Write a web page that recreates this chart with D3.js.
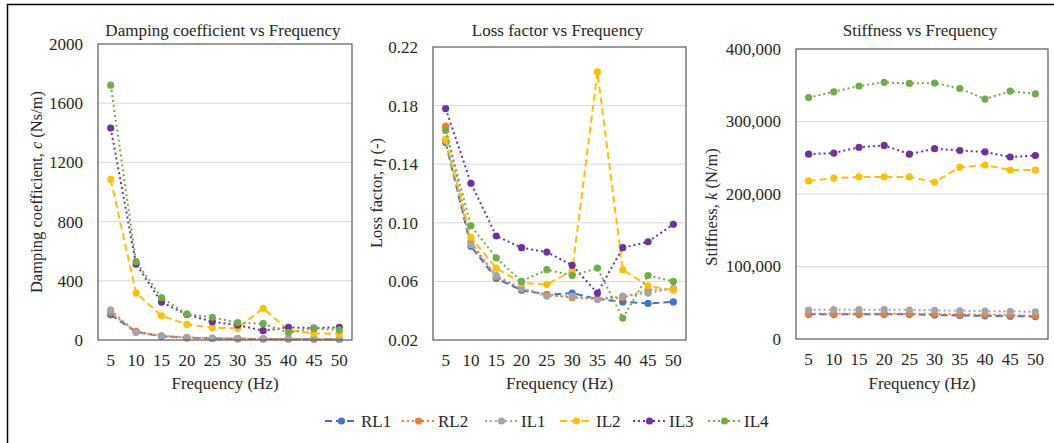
<!DOCTYPE html>
<html>
<head>
<meta charset="utf-8">
<script src="https://cdn.jsdelivr.net/npm/d3@7"></script>
<style>
  body { margin: 0; background: #fff; }
  svg text { font-family: "Liberation Serif", "Times New Roman", serif; fill: #262626; }
</style>
</head>
<body>
<div id="chart"></div>
<script>
var W = 1054, H = 443;

// categories
var freqs = ["5", "10", "15", "20", "25", "30", "35", "40", "45", "50"];
var seriesNames = ["RL1", "RL2", "IL1", "IL2", "IL3", "IL4"];

// damping coefficient c (Ns/m)
var dampRL1 = [170, 55, 25, 15, 10, 8, 7, 6, 5, 5];
var dampRL2 = [185, 58, 27, 16, 11, 9, 7, 6, 6, 5];
var dampIL1 = [203, 50, 28, 18, 12, 10, 8, 6, 6, 5];
var dampIL2 = [1085, 317, 164, 106, 83, 79, 214, 66, 45, 41];
var dampIL3 = [1432, 513, 256, 172, 124, 101, 63, 86, 80, 86];
var dampIL4 = [1722, 529, 286, 176, 153, 117, 110, 50, 79, 68];

// loss factor eta (-)
var lossRL1 = [0.155, 0.084, 0.062, 0.054, 0.051, 0.052, 0.048, 0.046, 0.045, 0.046];
var lossRL2 = [0.166, 0.087, 0.063, 0.055, 0.051, 0.049, 0.048, 0.049, 0.054, 0.055];
var lossIL1 = [0.156, 0.085, 0.064, 0.055, 0.050, 0.050, 0.048, 0.050, 0.052, 0.055];
var lossIL2 = [0.157, 0.090, 0.069, 0.059, 0.058, 0.067, 0.203, 0.068, 0.057, 0.054];
var lossIL3 = [0.178, 0.127, 0.091, 0.083, 0.080, 0.071, 0.052, 0.083, 0.087, 0.099];
var lossIL4 = [0.163, 0.098, 0.076, 0.060, 0.068, 0.064, 0.069, 0.035, 0.064, 0.060];

// stiffness k (N/m)
var stiffRL1 = [34000, 34000, 34000, 34000, 34000, 33000, 32500, 32000, 31500, 31000];
var stiffRL2 = [35000, 35000, 35000, 35000, 35000, 34500, 34000, 33500, 33000, 32000];
var stiffIL1 = [40000, 40500, 40500, 40500, 40000, 39500, 39000, 38500, 38000, 37500];
var stiffIL2 = [218000, 222000, 223500, 223500, 223500, 216500, 237000, 240000, 233000, 233000];
var stiffIL3 = [255000, 256500, 264500, 267000, 255000, 262500, 260000, 258000, 251000, 253000];
var stiffIL4 = [333000, 341000, 349000, 354000, 352500, 353000, 345500, 331000, 342000, 338000];

// y-axis ticks
var dampTicks = [0, 400, 800, 1200, 1600, 2000];
var lossTicks = [0.02, 0.06, 0.10, 0.14, 0.18, 0.22];
var stiffTicks = [0, 100000, 200000, 300000, 400000];

var colors = ["#4472C4", "#ED7D31", "#A5A5A5", "#FFC000", "#7030A0", "#70AD47"];
var dashes = ["7,4", "2,3", "2,3", "7,4", "2,3", "2,3"];

var svg = d3.select("#chart").append("svg")
  .attr("width", W).attr("height", H);

// outer frame (right/bottom edges fall outside the picture)
svg.append("rect")
  .attr("x", 7.5).attr("y", 4.5)
  .attr("width", W).attr("height", H)
  .attr("fill", "none").attr("stroke", "#000").attr("stroke-width", 1.5);

var panels = [
  { title: "Damping coefficient vs Frequency", label: ["Damping coefficient, ", "c", " (Ns/m)"],
    series: [dampRL1, dampRL2, dampIL1, dampIL2, dampIL3, dampIL4], ticks: dampTicks, fmt: d3.format("d"),
    box: { l: 98, r: 352, t: 44, b: 340 }, labelX: 37, labelY: 192 },
  { title: "Loss factor vs Frequency", label: ["Loss factor, ", "η", " (-)"],
    series: [lossRL1, lossRL2, lossIL1, lossIL2, lossIL3, lossIL4], ticks: lossTicks, fmt: d3.format(".2f"),
    box: { l: 433, r: 686, t: 47, b: 340 }, labelX: 377, labelY: 193 },
  { title: "Stiffness vs Frequency", label: ["Stiffness, ", "k", " (N/m)"],
    series: [stiffRL1, stiffRL2, stiffIL1, stiffIL2, stiffIL3, stiffIL4], ticks: stiffTicks, fmt: d3.format(","),
    box: { l: 796, r: 1048, t: 49, b: 339 }, labelX: 712, labelY: 207 }
];

panels.forEach(function(p) {
  var b = p.box;
  var x = d3.scalePoint().domain(freqs).range([b.l, b.r]).padding(0.5);
  var y = d3.scaleLinear().domain([p.ticks[0], p.ticks[p.ticks.length - 1]]).range([b.b, b.t]);
  var g = svg.append("g");

  // gridlines
  g.selectAll(".grid").data(p.ticks.slice(1, -1)).enter().append("line")
    .attr("x1", b.l).attr("x2", b.r)
    .attr("y1", function(d) { return y(d); }).attr("y2", function(d) { return y(d); })
    .attr("stroke", "#d9d9d9").attr("stroke-width", 1);

  // y tick labels
  g.selectAll(".ytick").data(p.ticks).enter().append("text")
    .attr("x", b.l - 15).attr("y", function(d) { return y(d); })
    .attr("dy", "0.35em").attr("text-anchor", "end")
    .attr("font-size", 17).text(function(d) { return p.fmt(d); });

  // x tick labels
  g.selectAll(".xtick").data(freqs).enter().append("text")
    .attr("x", function(d) { return x(d); }).attr("y", b.b + 26)
    .attr("text-anchor", "middle").attr("font-size", 17).text(function(d) { return d; });

  g.append("text").attr("x", (b.l + b.r) / 2).attr("y", 389)
    .attr("text-anchor", "middle").attr("font-size", 17).text("Frequency (Hz)");

  g.append("text").attr("x", (b.l + b.r) / 2 - 2).attr("y", 36)
    .attr("text-anchor", "middle").attr("font-size", 17).text(p.title);

  var yl = g.append("text")
    .attr("transform", "translate(" + (p.labelX + 5) + "," + p.labelY + ") rotate(-90)")
    .attr("text-anchor", "middle").attr("font-size", 16.5);
  yl.append("tspan").text(p.label[0]);
  yl.append("tspan").attr("font-style", "italic").text(p.label[1]);
  yl.append("tspan").text(p.label[2]);

  // series
  p.series.forEach(function(vals, si) {
    var line = d3.line()
      .x(function(d, i) { return x(freqs[i]); })
      .y(function(d) { return y(d); });
    g.append("path").datum(vals)
      .attr("d", line).attr("fill", "none")
      .attr("stroke", colors[si]).attr("stroke-width", 2)
      .attr("stroke-dasharray", dashes[si]);
    g.selectAll(".pt" + si).data(vals).enter().append("circle")
      .attr("cx", function(d, i) { return x(freqs[i]); })
      .attr("cy", function(d) { return y(d); })
      .attr("r", 3.6).attr("fill", colors[si]);
  });

  // plot border
  g.append("rect").attr("x", b.l).attr("y", b.t)
    .attr("width", b.r - b.l).attr("height", b.b - b.t)
    .attr("fill", "none").attr("stroke", "#595959").attr("stroke-width", 1.2);
});

// legend
var legendX = [325, 402, 485, 560, 633, 708];
var legY = 421;
var lg = svg.append("g");
seriesNames.forEach(function(name, i) {
  var x0 = legendX[i];
  lg.append("line").attr("x1", x0).attr("x2", x0 + 33)
    .attr("y1", legY).attr("y2", legY)
    .attr("stroke", colors[i]).attr("stroke-width", 2)
    .attr("stroke-dasharray", dashes[i]);
  lg.append("circle").attr("cx", x0 + 16.5).attr("cy", legY).attr("r", 3.6).attr("fill", colors[i]);
  lg.append("text").attr("x", x0 + 36).attr("y", legY).attr("dy", "0.35em")
    .attr("font-size", 17).text(name);
});
</script>
</body>
</html>
